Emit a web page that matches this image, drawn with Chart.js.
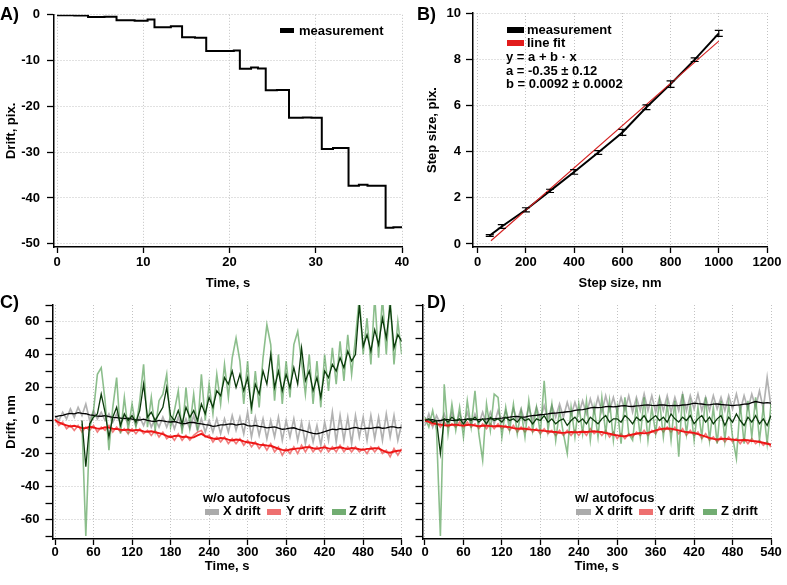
<!DOCTYPE html>
<html><head><meta charset="utf-8">
<script src="https://cdn.jsdelivr.net/npm/chart.js@4.4.1/dist/chart.umd.min.js"></script>
<style>
html,body{margin:0;padding:0;background:#fff;}
#wrap{position:relative;width:787px;height:585px;overflow:hidden;font-family:"Liberation Sans",Arial,Helvetica,sans-serif;font-weight:bold;color:#000;}
canvas{position:absolute;left:0;top:0;}
.pl{position:absolute;font-size:18px;line-height:18px;}
.t{position:absolute;font-size:13px;line-height:14px;white-space:nowrap;}
.bx{position:absolute;}
</style></head>
<body><div id="wrap">
<canvas id="cA" width="787" height="585"></canvas>
<canvas id="cB" width="787" height="585"></canvas>
<canvas id="cC" width="787" height="585"></canvas>
<canvas id="cD" width="787" height="585"></canvas>

<div class="pl" style="left:0;top:5px">A)</div>
<div class="pl" style="left:417px;top:5px">B)</div>
<div class="pl" style="left:0;top:293px">C)</div>
<div class="pl" style="left:427px;top:293px">D)</div>

<div class="bx" style="left:280px;top:28px;width:14px;height:5px;background:#000"></div>
<div class="t" style="left:299px;top:24px">measurement</div>

<div class="bx" style="left:507px;top:27px;width:17px;height:6px;background:#000"></div>
<div class="t" style="left:527px;top:23px">measurement</div>
<div class="bx" style="left:507px;top:40px;width:17px;height:6px;background:#e21b1b"></div>
<div class="t" style="left:527px;top:36px">line fit</div>
<div class="t" style="left:506px;top:50px">y = a + b · x</div>
<div class="t" style="left:506px;top:64px">a = -0.35 ± 0.12</div>
<div class="t" style="left:506px;top:77px">b = 0.0092 ± 0.0002</div>

<div class="t" style="left:203px;top:491px">w/o autofocus</div>
<div class="bx" style="left:205px;top:509px;width:14px;height:6px;background:#ababab"></div>
<div class="t" style="left:223px;top:504px">X drift</div>
<div class="bx" style="left:267px;top:509px;width:14px;height:6px;background:#ee7070"></div>
<div class="t" style="left:286px;top:504px">Y drift</div>
<div class="bx" style="left:332px;top:509px;width:14px;height:6px;background:#72ad72"></div>
<div class="t" style="left:349px;top:504px">Z drift</div>

<div class="t" style="left:575px;top:491px">w/ autofocus</div>
<div class="bx" style="left:576px;top:509px;width:15px;height:6px;background:#ababab"></div>
<div class="t" style="left:595px;top:504px">X drift</div>
<div class="bx" style="left:639px;top:509px;width:14px;height:6px;background:#ee7070"></div>
<div class="t" style="left:657px;top:504px">Y drift</div>
<div class="bx" style="left:703px;top:509px;width:14px;height:6px;background:#72ad72"></div>
<div class="t" style="left:721px;top:504px">Z drift</div>
</div>
<script>
// ---------------- DATA ----------------
// Panel A: drift vs time (step function)
const aTime  = [0,2,3.6,5.5,6.9,9,10.5,11.3,13.2,14.5,16,17.3,19.5,20.5,21.2,22.5,23.3,24.2,25.5,26.9,28.5,29.5,30.7,32,33.8,35,36,38.1,39,40];
const aDrift = [-0.1,-0.15,-0.5,-0.45,-1.2,-1.3,-1.05,-2.7,-2.5,-4.9,-5.0,-7.9,-7.9,-7.8,-11.8,-11.5,-11.7,-16.5,-16.4,-22.5,-22.4,-22.5,-29.3,-29.1,-37.3,-37.1,-37.3,-46.5,-46.4,-46.4];
const aXTicks = [0,10,20,30,40];
const aYTicks = [0,-10,-20,-30,-40,-50];

// Panel B: step size calibration
const bSize = [50,100,200,300,400,500,600,700,800,900,1000];
const bStep = [0.37,0.76,1.48,2.3,3.12,3.96,4.83,5.92,6.92,7.98,9.12];
const bErr  = [0.04,0.08,0.09,0.07,0.1,0.08,0.13,0.1,0.14,0.08,0.13];
const bFitX = [55,1000];
const bFitY = [0.14,8.78];
const bXTicks = [0,200,400,600,800,1000,1200];
const bYTicks = [0,2,4,6,8,10];

// Panels C/D time base (s)
const t6  = [0,6,12,18,24,30,36,42,48,54,60,66,72,78,84,90,96,102,108,114,120,126,132,138,144,150,156,162,168,174,180,186,192,198,204,210,216,222,228,234,240,246,252,258,264,270,276,282,288,294,300,306,312,318,324,330,336,342,348,354,360,366,372,378,384,390,396,402,408,414,420,426,432,438,444,450,456,462,468,474,480,486,492,498,504,510,516,522,528,534,540];
const tTicks = [0,60,120,180,240,300,360,420,480,540];
const dYTicks = [-70,-60,-50,-40,-30,-20,-10,0,10,20,30,40,50,60,70];

// Panel C (w/o autofocus)
const cXraw = [3,0,5,1,7,2,8,3,10,0,6,1,5,0,4,-1,4,-2,3,-2,3,-3,2,-3,3,-4,1,-4,2,-4,2,-5,2,-5,1,-5,3,-6,1,-7,0,-7,1,-8,1,-7,3,-6,2,-8,5,-10,2,-9,1,-11,0,-10,2,-12,0,-10,1,-12,-1,-14,-2,-13,-3,-15,-1,-12,5,-13,3,-12,2,-14,3,-10,2,-12,3,-11,2,-12,4,-10,3,-12,-2];
const cYraw = [1,-3,-1,-5,-3,-6,-3,-7,-4,-6,-3,-7,-4,-6,-3,-7,-4,-7,-5,-8,-5,-8,-5,-8,-6,-9,-6,-10,-7,-11,-9,-12,-8,-12,-9,-12,-9,-7,-6,-10,-9,-13,-10,-13,-10,-14,-11,-14,-11,-15,-12,-16,-13,-17,-14,-18,-14,-19,-16,-21,-17,-20,-16,-20,-15,-19,-15,-19,-16,-19,-15,-19,-16,-19,-15,-19,-16,-19,-16,-19,-17,-20,-16,-19,-16,-20,-18,-22,-17,-21,-17];
const cZraw = [null,null,null,null,null,null,null,-2,-70,-5,6,28,32,12,-18,8,26,-8,14,-6,10,-4,12,34,-4,14,-6,12,16,28,-4,6,18,-8,20,-4,16,-6,28,0,22,4,28,10,34,14,38,50,36,10,36,4,30,8,38,58,46,12,40,10,36,14,46,54,36,16,40,10,36,8,40,18,44,22,48,24,52,28,50,75,40,62,34,75,38,75,40,75,34,60,40];
const cXsm = [2.2,2.8,3.1,3.9,4.3,4.0,4.8,4.3,4.1,3.4,3.2,2.7,2.6,2.9,2.4,1.9,1.8,1.5,1.2,1.4,0.9,0.4,0.3,0.8,0.1,-0.4,-0.6,0.1,-0.2,-0.7,-0.9,-0.6,-1.3,-1.9,-1.8,-1.1,-1.2,-1.7,-2.1,-2.5,-2.8,-3.5,-3.2,-2.6,-2.7,-2.2,-2.1,-2.8,-2.4,-2.0,-3.1,-3.4,-2.9,-3.5,-3.8,-4.5,-4.2,-3.9,-4.6,-5.3,-5.1,-4.6,-4.4,-5.2,-5.8,-6.5,-7.2,-7.8,-8.1,-7.5,-6.8,-6.0,-5.2,-5.6,-4.9,-5.4,-5.3,-4.6,-4.2,-4.8,-5.1,-4.6,-4.8,-4.3,-4.1,-4.7,-4.5,-3.9,-3.9,-4.4,-4.2];
const cYsm = [0.3,-1.2,-2.2,-2.9,-3.6,-3.2,-3.9,-4.5,-4.6,-3.8,-4.2,-4.9,-4.8,-4.1,-4.3,-5.0,-5.1,-5.6,-5.8,-5.5,-6.2,-5.7,-5.9,-6.6,-6.8,-6.5,-7.1,-7.6,-8.2,-9.3,-10.1,-9.4,-9.2,-10.0,-9.8,-10.4,-10.2,-9.0,-8.1,-9.4,-10.3,-10.9,-11.2,-10.6,-10.8,-11.6,-12.1,-11.5,-11.8,-12.6,-13.2,-13.5,-13.9,-14.6,-14.8,-15.1,-15.3,-16.2,-17.1,-17.8,-18.2,-17.6,-17.3,-16.9,-16.8,-16.2,-16.1,-16.8,-17.2,-16.6,-16.3,-16.9,-17.1,-16.5,-16.2,-16.8,-17.3,-16.7,-16.9,-17.4,-17.8,-17.2,-17.1,-16.8,-16.9,-18.1,-19.2,-19.5,-18.8,-18.3,-18.1];
const cZsm = [null,null,null,null,null,null,null,0,-28,-2,2,4,16,5,-10,2,8,-3,4,0,3,-1,6,22,2,5,0,4,8,20,3,0,6,-2,8,2,6,0,10,4,14,8,18,15,26,22,30,20,28,18,26,8,22,16,30,22,40,20,30,18,28,20,32,22,44,24,30,18,26,14,30,26,34,30,38,32,42,36,40,70,45,52,42,55,46,62,50,70,44,52,48];

// Panel D (w/ autofocus)
const dXraw = [-3,4,-4,3,-2,4,-3,5,-3,4,-2,5,-3,4,-2,5,-2,5,-2,6,-1,6,-1,7,0,7,-1,8,0,8,1,9,1,9,2,10,2,11,3,11,4,12,4,13,5,14,5,15,6,14,5,14,6,15,5,14,6,16,6,15,5,14,6,15,5,14,6,16,6,15,7,16,6,14,6,15,7,14,6,15,7,16,6,15,7,16,8,18,7,26,8];
const dYraw = [1,-1,-3,-1,-4,-1,-4,-2,-4,-1,-4,-1,-4,-2,-5,-2,-5,-2,-5,-2,-5,-3,-6,-3,-7,-4,-7,-4,-7,-5,-8,-5,-8,-6,-9,-6,-9,-6,-9,-6,-9,-6,-9,-5,-8,-6,-9,-6,-10,-7,-11,-8,-11,-8,-10,-7,-9,-6,-9,-6,-8,-4,-7,-4,-7,-4,-8,-5,-9,-6,-9,-7,-11,-8,-12,-10,-13,-10,-13,-10,-13,-11,-14,-11,-14,-11,-14,-12,-15,-13,-16];
const dZraw = [2,-4,6,-6,-70,22,-8,10,-6,8,-10,12,-4,18,-8,-24,10,-6,16,14,-10,8,-6,10,-8,6,-10,12,-6,8,-8,24,-6,10,-12,6,-8,-20,8,-10,10,-8,12,-12,8,-10,14,-8,12,-12,8,-14,14,-8,-12,10,-10,14,-12,8,-8,12,-10,10,-12,12,-22,16,-8,10,-12,8,-10,14,-12,8,-14,12,-12,10,-10,-23,10,-14,12,-10,14,-12,8,-14,10];
const dXsm = [0,0.4,0.5,-0.2,0,0.6,0.5,0.1,0,0.4,0.5,0.9,1,0.6,0.5,0.9,1,1.2,1,1.3,1.5,1.8,2,2.4,2.5,2.1,2,2.6,3,3.2,3.5,3.7,4,4.4,4.5,4.8,5,5.3,5.5,6.1,6.5,6.6,7,7.6,8,7.8,8,8.4,8.5,8.3,8.5,8.9,9,8.6,8.5,8.9,9,9.3,9.5,9.2,9,9.4,9.5,9.1,9,9.2,9,9.4,9.5,10,10.5,10.2,10,9.6,9.5,9.9,10,9.7,9.5,9.3,9,9.3,9.5,9.9,10,10.8,11.5,11,10.5,10.8,10.5];
const dYsm = [0,-0.8,-1.5,-2.2,-2.5,-2.9,-3,-2.6,-2.5,-2.9,-3,-2.7,-2.5,-3.1,-3.5,-3.2,-3,-3.4,-3.5,-3.3,-3.5,-3.8,-4,-4.6,-5,-4.8,-5,-5.4,-5.5,-5.8,-6,-6.3,-6.5,-6.8,-7,-7.4,-7.5,-7.2,-7,-7.1,-7,-6.8,-7,-6.7,-6.5,-6.9,-7,-7.6,-8,-8.6,-9,-9.4,-9.5,-9,-8.5,-8,-7.5,-7.8,-7.5,-6.8,-6,-5.4,-5,-4.8,-5,-5.5,-6,-6.6,-7,-7.3,-7.5,-8.2,-9,-9.8,-10.5,-11.1,-11.5,-11.2,-11,-11.3,-11.5,-11.9,-12,-11.8,-12,-12.4,-12.5,-13,-13.5,-14.1,-14.5];
const dZsm = [0,1,-1,0,-20,1,-1,2,0,1,-2,1,0,2,-1,1,-2,2,0,1,-1,2,0,1,-1,2,0,1,-2,1,0,3,-1,1,-2,0,1,-3,0,2,-1,1,-2,2,0,-2,1,3,-1,1,1,-1,3,1,-2,2,0,3,-1,1,3,0,2,-1,4,1,-1,2,0,3,-2,1,3,-1,2,-2,1,3,-3,2,-1,4,0,-3,2,-1,3,-2,1,-3,3];

// ---------------- CHARTS ----------------
const FONT = '"Liberation Sans", Arial, Helvetica, sans-serif';
Chart.defaults.font.family = FONT;
Chart.defaults.font.weight = 'bold';
Chart.defaults.font.size = 13;
Chart.defaults.color = '#000';
Chart.defaults.animation = false;
const W = 787, H = 585, GRID = '#c2c2c2';

const pts = (xs, ys) => xs.map((x, i) => ({ x: x, y: ys[i] }));

function axis(o) {
  return {
    type: 'linear', position: o.pos, min: o.min, max: o.max,
    afterBuildTicks: s => { s.ticks = o.ticks.map(v => ({ value: v })); },
    afterFit: s => { if (o.pos === 'bottom') s.height = o.size; else s.width = o.size; },
    ticks: { autoSkip: false, maxRotation: 0, minRotation: 0, padding: o.pad, color: '#000',
             font: { family: FONT, size: 13, weight: 'bold' },
             callback: v => (o.label ? o.label(v) : String(v)) },
    grid: { color: c => (o.gridIf && c.tick && !o.gridIf(c.tick.value)) ? 'rgba(0,0,0,0)' : GRID,
            lineWidth: 1, drawTicks: true, tickLength: o.tl, tickColor: '#000', tickWidth: 1.3, tickBorderDash: [] },
    border: { display: true, color: '#000', width: 1.5, dash: [1, 2] },
    title: { display: !!o.title, text: o.title || '', color: '#000', padding: 0,
             font: { family: FONT, size: 13, weight: 'bold' } }
  };
}

function make(id, area, yW, xH, datasets, xo, yo, plugins) {
  return new Chart(document.getElementById(id), {
    type: 'line',
    data: { datasets: datasets },
    options: {
      responsive: false, maintainAspectRatio: false, animation: false, events: [],
      layout: { padding: { left: area.l - yW, top: area.t, right: W - area.r, bottom: H - area.b - xH } },
      elements: { point: { radius: 0 }, line: { tension: 0 } },
      scales: {
        x: axis(Object.assign({ pos: 'bottom', size: xH }, xo)),
        y: axis(Object.assign({ pos: 'left', size: yW }, yo))
      },
      plugins: { legend: { display: false }, tooltip: { enabled: false } }
    },
    plugins: plugins || []
  });
}

const ln = (data, color, w, extra) => Object.assign({ data: data, borderColor: color, borderWidth: w, pointRadius: 0, fill: false, spanGaps: false }, extra || {});

// Panel A
make('cA', { l: 54, r: 402, t: 13, b: 247 }, 50, 44,
  [ ln(pts(aTime, aDrift), '#000', 2, { stepped: true }) ],
  { min: -0.35, max: 40, ticks: aXTicks, tl: 6, pad: 2, title: 'Time, s' },
  { min: -50.7, max: 0, ticks: aYTicks, tl: 7, pad: 7, title: 'Drift, pix.' });

// Panel B with error bars
const errorBars = {
  id: 'errorBars',
  afterDatasetsDraw(chart) {
    const ctx = chart.ctx, xs = chart.scales.x, ys = chart.scales.y;
    ctx.save(); ctx.strokeStyle = '#000'; ctx.lineWidth = 1.2;
    bSize.forEach((s, i) => {
      const px = xs.getPixelForValue(s);
      const top = ys.getPixelForValue(bStep[i] + bErr[i]);
      const bot = ys.getPixelForValue(bStep[i] - bErr[i]);
      ctx.beginPath();
      ctx.moveTo(px, top); ctx.lineTo(px, bot);
      ctx.moveTo(px - 4, top); ctx.lineTo(px + 4, top);
      ctx.moveTo(px - 4, bot); ctx.lineTo(px + 4, bot);
      ctx.stroke();
    });
    ctx.restore();
  }
};
make('cB', { l: 473, r: 767, t: 13, b: 247 }, 48, 44,
  [ ln(pts(bFitX, bFitY), '#d42020', 1.1), ln(pts(bSize, bStep), '#000', 2) ],
  { min: -19.5, max: 1200, ticks: bXTicks, tl: 6, pad: 2, title: 'Step size, nm' },
  { min: -0.13, max: 10, ticks: bYTicks, tl: 7, pad: 5, title: 'Step size, pix.' },
  [errorBars]);

// Panels C & D
const yLab20 = v => (v % 20 === 0 ? String(v) : '');
const is20 = v => v % 20 === 0;
function driftSets(xr, yr, zr, xs, ys, zs) {
  return [
    ln(pts(t6, zs), '#0b3a0b', 1.3),
    ln(pts(t6, ys), '#ee1515', 1.9),
    ln(pts(t6, xs), '#000000', 1.3),
    ln(pts(t6, zr), 'rgba(70,150,70,0.62)', 1.6),
    ln(pts(t6, yr), 'rgba(240,110,110,0.9)', 1.6),
    ln(pts(t6, xr), 'rgba(170,170,170,0.9)', 1.7)
  ];
}
make('cC', { l: 52.5, r: 401.7, t: 305, b: 539 }, 48.5, 35.5,
  driftSets(cXraw, cYraw, cZraw, cXsm, cYsm, cZsm),
  { min: -3.9, max: 540, ticks: tTicks, tl: 6, pad: 0, title: 'Time, s' },
  { min: -71.8, max: 70, ticks: dYTicks, tl: 7, pad: 6, title: 'Drift, nm', label: yLab20, gridIf: is20 });

make('cD', { l: 422.5, r: 771, t: 305, b: 539 }, 17.5, 35.5,
  driftSets(dXraw, dYraw, dZraw, dXsm, dYsm, dZsm),
  { min: -3.9, max: 540, ticks: tTicks, tl: 6, pad: 0, title: 'Time, s' },
  { min: -71.8, max: 70, ticks: dYTicks, tl: 7, pad: 6, label: v => '', gridIf: is20 });
</script>
</body></html>
